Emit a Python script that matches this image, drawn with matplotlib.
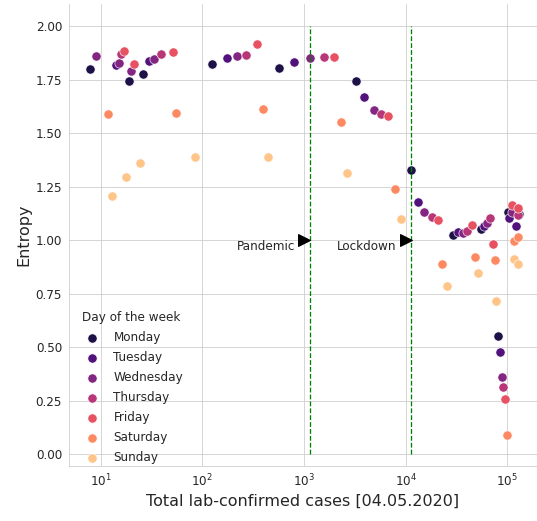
import matplotlib
matplotlib.use("Agg")
import matplotlib.pyplot as plt
import seaborn as sns

# cases vs entropy, one list pair per weekday
days = ["Monday", "Tuesday", "Wednesday", "Thursday", "Friday", "Saturday", "Sunday"]

monday_x = [7.86, 19.1, 26.1, 125, 564, 3226, 11220, 29000, 55100, 102000, 131000, 80900]
monday_y = [1.798, 1.743, 1.774, 1.822, 1.802, 1.743, 1.329, 1.023, 1.051, 1.129, 1.12, 0.551]

tuesday_x = [14.1, 29.9, 175, 792, 3890, 13150, 32500, 59000, 104800, 121000, 84700]
tuesday_y = [1.816, 1.836, 1.85, 1.832, 1.668, 1.176, 1.039, 1.065, 1.101, 1.067, 0.477]

wednesday_x = [8.9, 15.0, 20.0, 33.2, 221, 1146, 4850, 15130, 36400, 63600, 111000, 88700]
wednesday_y = [1.86, 1.826, 1.79, 1.846, 1.861, 1.85, 1.609, 1.129, 1.031, 1.079, 1.132, 0.36]

thursday_x = [15.7, 38.9, 269, 1574, 5680, 18030, 40400, 68000, 126000, 90800]
thursday_y = [1.87, 1.868, 1.866, 1.855, 1.589, 1.106, 1.042, 1.101, 1.117, 0.314]

friday_x = [16.9, 21.1, 51.0, 345, 1960, 6750, 20800, 44700, 71800, 112000, 126500, 95600]
friday_y = [1.885, 1.822, 1.877, 1.914, 1.855, 1.579, 1.092, 1.069, 0.98, 1.164, 1.148, 0.257]

saturday_x = [11.9, 54.7, 393, 2312, 7850, 22800, 47800, 75700, 115600, 126500, 98600]
saturday_y = [1.59, 1.595, 1.614, 1.55, 1.24, 0.886, 0.92, 0.907, 0.997, 1.013, 0.089]

sunday_x = [13.0, 17.9, 24.5, 85.3, 443, 2670, 8930, 25500, 51800, 77400, 115600, 126500]
sunday_y = [1.206, 1.296, 1.358, 1.389, 1.389, 1.315, 1.098, 0.786, 0.847, 0.714, 0.911, 0.886]

xs = [monday_x, tuesday_x, wednesday_x, thursday_x, friday_x, saturday_x, sunday_x]
ys = [monday_y, tuesday_y, wednesday_y, thursday_y, friday_y, saturday_y, sunday_y]

# events
event_names = ["Pandemic", "Lockdown"]
event_lines = [1146, 11220]
event_arrows = [1000, 10000]

sns.set_style("whitegrid")
plt.rcParams["font.family"] = ["DejaVu Sans"]

fig = plt.figure(figsize=(537 / 72, 521 / 72), dpi=72)
ax = fig.add_axes([0.1285, 0.1056, 0.8715, 0.8867])

colors = sns.color_palette("magma", 7)
for day, x, y, c in zip(days, xs, ys, colors):
    ax.scatter(x, y, s=85, color=c, edgecolor="white", linewidth=0.6, label=day)

for xl in event_lines:
    ax.plot([xl, xl], [0, 2], color="green", linestyle="--", linewidth=1.3)

for name, xa in zip(event_names, event_arrows):
    ax.plot(xa, 1.0, marker=">", color="black", markersize=12, linestyle="none")
    ax.annotate(name, xy=(xa, 1.0), xytext=(-9, -6), textcoords="offset points",
                ha="right", va="center", fontsize=12, color="#262626")

ax.set_xscale("log")
ax.set_xlim(10 ** 0.688, 10 ** 5.292)
ax.set_ylim(-0.056, 2.103)
ax.set_yticks([0, 0.25, 0.5, 0.75, 1.0, 1.25, 1.5, 1.75, 2.0])
ax.tick_params(labelsize=12)
ax.minorticks_off()

ax.set_xlabel("Total lab-confirmed cases [04.05.2020]", fontsize=16)
ax.set_ylabel("Entropy", fontsize=16)

ax.legend(title="Day of the week", loc="lower left", bbox_to_anchor=(0.0, -0.019),
          frameon=False, fontsize=12, title_fontsize=12, labelspacing=0.58)

sns.despine(ax=ax)

fig.savefig("out.png", dpi=72)
